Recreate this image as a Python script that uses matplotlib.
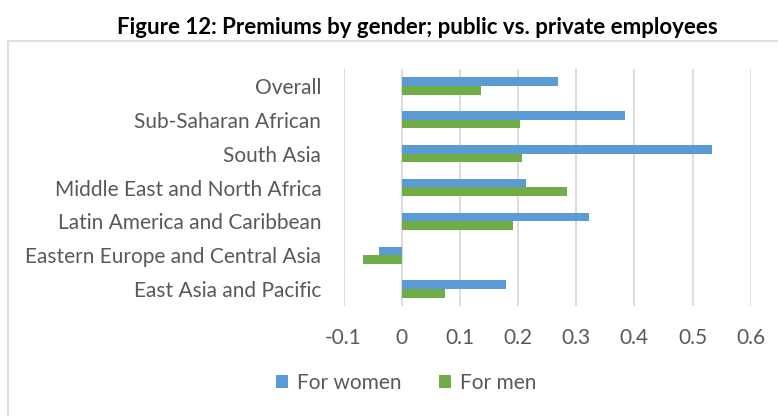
import matplotlib.pyplot as plt
from matplotlib.patches import Rectangle
import numpy as np

# regions from bottom to top, as they are drawn on the y axis
regions = ['East Asia and Pacific', 'Eastern Europe and Central Asia',
           'Latin America and Caribbean', 'Middle East and North Africa',
           'South Asia', 'Sub-Saharan African', 'Overall']
women = [0.179, -0.039, 0.322, 0.214, 0.533, 0.384, 0.269]
men = [0.074, -0.066, 0.191, 0.284, 0.207, 0.204, 0.137]
xticks = [-0.1, 0, 0.1, 0.2, 0.3, 0.4, 0.5, 0.6]
xticklabels = ['-0.1', '0', '0.1', '0.2', '0.3', '0.4', '0.5', '0.6']

BLUE = '#5b9bd5'
GREEN = '#70ad47'
GREY = '#595959'

plt.rcParams['font.family'] = ['Lato', 'DejaVu Sans']

fig = plt.figure(figsize=(7.78, 4.16), dpi=100)

# light frame around the chart area
fig.patches.append(Rectangle((8 / 778, -0.01), 1.0, (416 - 41) / 416 + 0.01,
                             transform=fig.transFigure, fill=False,
                             edgecolor='#d9d9d9', linewidth=1.2))

fig.text(0.537, 0.933, 'Figure 12: Premiums by gender; public vs. private employees',
         ha='center', va='center', fontsize=16, fontweight='bold', color='black')

ax = fig.add_axes([343.5 / 778, (416 - 306) / 416,
                   (750.7 - 343.5) / 778, (306 - 69) / 416])

y = np.arange(len(regions))
h = 0.257
ax.barh(y + h / 2, women, height=h, color=BLUE, label='For women', zorder=3)
ax.barh(y - h / 2, men, height=h, color=GREEN, label='For men', zorder=3)

ax.set_xlim(-0.1, 0.6)
ax.set_ylim(-0.5, len(regions) - 0.5)
ax.set_xticks(xticks)
ax.set_xticklabels(xticklabels)
ax.set_yticks(y)
ax.set_yticklabels(regions)
ax.grid(axis='x', color='#d9d9d9', linewidth=1.3, zorder=0)
for s in ax.spines.values():
    s.set_visible(False)
ax.tick_params(axis='both', length=0, colors=GREY, labelsize=15)
ax.tick_params(axis='x', pad=16)
ax.tick_params(axis='y', pad=16)

fig.legend(*ax.get_legend_handles_labels(), loc='center',
           bbox_to_anchor=(406 / 778, (416 - 383) / 416), ncol=2, frameon=False,
           fontsize=15, labelcolor=GREY, handlelength=0.6, handleheight=0.6,
           columnspacing=1.8, handletextpad=0.4)

fig.savefig('out.png', dpi=100)
